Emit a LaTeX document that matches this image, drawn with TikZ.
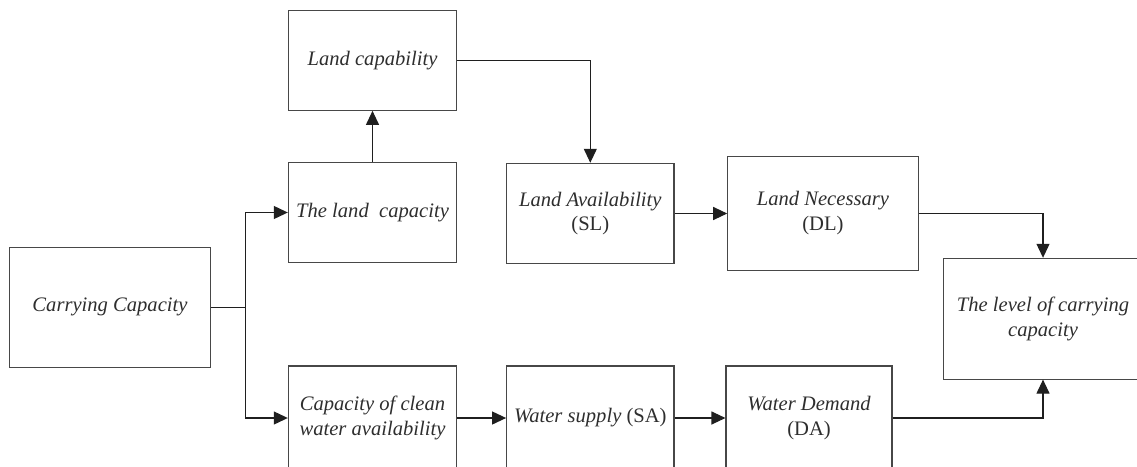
\documentclass[tikz,border=0pt]{standalone}
\usepackage{fontspec}
\setmainfont{Liberation Serif}
\usetikzlibrary{arrows.meta}
\begin{document}
\begin{tikzpicture}[x=1pt,y=-1pt,
  box/.style={draw=black!72, line width=1.1pt, inner sep=0pt, align=center,
    text=black!82, font=\itshape\fontsize{20.6}{24.8}\selectfont},
  link/.style={draw=black!88, line width=1.1pt},
  arr/.style={link, -{Triangle[length=14pt,width=13pt]}}]
  \useasboundingbox (0,0) rectangle (1137,466);
  \clip (0,0) rectangle (1137,466);

  % source box
  \node[box, minimum width=201pt, minimum height=120pt] (cc) at (110,307.3) {Carrying Capacity};

  % land branch
  \node[box, minimum width=168.3pt, minimum height=100pt] (lcap) at (372.5,60.3) {Land capability};
  \node[box, minimum width=168.3pt, minimum height=100.3pt] (lcy) at (372.5,212.5) {The land~ capacity};
  \node[box, minimum width=167.3pt, minimum height=100.4pt] (la) at (590.3,213.5) {Land Availability\\\upshape(SL)};
  \node[box, minimum width=190.3pt, minimum height=114.3pt] (ln) at (822.9,213.2) {Land Necessary\\\upshape(DL)};

  % result box (runs off the right edge)
  \node[box, minimum width=199pt, minimum height=120.7pt] (lvl) at (1043,318.7) {The level of carrying\\capacity};

  % water branch (runs off the bottom edge)
  \node[box, minimum width=168.3pt, minimum height=104pt] (cw) at (372.5,418) {Capacity of clean\\water availability};
  \node[box, minimum width=167.3pt, minimum height=104pt] (ws) at (590.3,418) {Water supply \upshape(SA)};
  \node[box, minimum width=166pt, minimum height=104pt] (wd) at (809,418) {Water Demand\\\upshape(DA)};

  % split from the source box
  \coordinate (jn) at (245.5,307.3);
  \draw[link] (cc.east) -- (jn);
  \draw[arr] (jn) |- (lcy.west);
  \draw[arr] (jn) |- (cw.west);

  % land chain
  \draw[arr] (lcy.north) -- (lcap.south);
  \draw[arr] (lcap.east) -| (la.north);
  \draw[arr] (la.east) -- (la.east -| ln.west);
  \draw[arr] (ln.east) -| (lvl.north);

  % water chain
  \draw[arr] (cw.east) -- (ws.west);
  \draw[arr] (ws.east) -- (wd.west);
  \draw[arr] (wd.east) -| (lvl.south);
\end{tikzpicture}
\end{document}
